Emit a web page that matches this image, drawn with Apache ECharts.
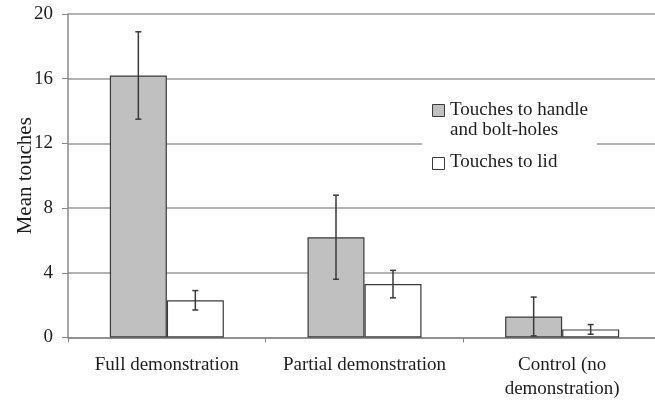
<!DOCTYPE html>
<html>
<head>
<meta charset="utf-8">
<script src="https://cdn.jsdelivr.net/npm/echarts@6/dist/echarts.min.js"></script>
<style>html,body{margin:0;padding:0;background:#fff}#c{width:655px;height:401px}</style>
</head>
<body>
<div id="c"></div>
<script>
const categories = ['Full demonstration', 'Partial demonstration', 'Control (no\ndemonstration)'];
const seriesNames = ['Touches to handle\nand bolt-holes', 'Touches to lid'];
const handleMean = [16.2, 6.2, 1.3];
const handleErr = [2.7, 2.6, 1.2];
const lidMean = [2.3, 3.3, 0.5];
const lidErr = [0.6, 0.85, 0.3];
const yTicks = [0, 4, 8, 12, 16, 20];

const FONT = '"Liberation Serif","Times New Roman",serif';
const TXT = '#1e1e1e';
const BAR_W = 57;
const fills = ['#c0c0c0', '#ffffff'];

const errData = [];
[[handleMean, handleErr], [lidMean, lidErr]].forEach(function (p, s) {
  p[0].forEach(function (m, i) {
    errData.push([i, Math.max(0, m - p[1][i]), m + p[1][i], s]);
  });
});

const chart = echarts.init(document.getElementById('c'), null, {renderer: 'canvas'});
chart.setOption({
  animation: false,
  backgroundColor: '#fff',
  grid: {left: 68, right: -6, top: 14, bottom: 63.5, outerBoundsMode: 'none', containLabel: false},
  xAxis: {
    type: 'category',
    data: categories,
    axisLine: {lineStyle: {color: '#888', width: 1.5}},
    axisTick: {show: true, length: 5, lineStyle: {color: '#888'}},
    axisLabel: {color: TXT, fontFamily: FONT, fontSize: 19, lineHeight: 24, margin: 16, interval: 0}
  },
  yAxis: {
    type: 'value',
    min: yTicks[0], max: yTicks[yTicks.length - 1], interval: yTicks[1] - yTicks[0],
    name: 'Mean touches',
    nameLocation: 'middle',
    nameGap: 32,
    nameMoveOverlap: false,
    nameTextStyle: {color: TXT, fontFamily: FONT, fontSize: 21},
    axisLine: {show: true, lineStyle: {color: '#888', width: 1.5}},
    axisTick: {show: true, length: 6, lineStyle: {color: '#888'}},
    axisLabel: {color: TXT, fontFamily: FONT, fontSize: 19, margin: 15},
    splitLine: {lineStyle: {color: '#9a9a9a', width: 1.5}}
  },
  series: [
    {
      type: 'bar', name: seriesNames[0], data: handleMean, barWidth: BAR_W, barGap: '0%',
      itemStyle: {color: fills[0], borderColor: '#3a3a3a', borderWidth: 1.2}
    },
    {
      type: 'bar', name: seriesNames[1], data: lidMean, barWidth: BAR_W, barGap: '0%',
      itemStyle: {color: fills[1], borderColor: '#3a3a3a', borderWidth: 1.2}
    },
    {
      type: 'custom', name: 'err', data: errData, z: 10,
      encode: {x: 0, y: [1, 2]},
      renderItem: function (params, api) {
        const off = (api.value(3) === 0 ? -1 : 1) * BAR_W / 2;
        const lo = api.coord([api.value(0), api.value(1)]);
        const hi = api.coord([api.value(0), api.value(2)]);
        const x = lo[0] + off;
        const cap = 3;
        const st = {stroke: '#3a3a3a', lineWidth: 1.5};
        return {
          type: 'group',
          children: [
            {type: 'line', shape: {x1: x, y1: lo[1], x2: x, y2: hi[1]}, style: st},
            {type: 'line', shape: {x1: x - cap, y1: hi[1], x2: x + cap, y2: hi[1]}, style: st},
            {type: 'line', shape: {x1: x - cap, y1: lo[1], x2: x + cap, y2: lo[1]}, style: st}
          ]
        };
      }
    }
  ],
  graphic: [
    {type: 'rect', shape: {x: 422, y: 92, width: 175, height: 86}, style: {fill: '#fff'}, z: 50},
    {type: 'rect', shape: {x: 432.5, y: 104.5, width: 12, height: 12}, style: {fill: fills[0], stroke: '#3a3a3a', lineWidth: 1}, z: 51},
    {type: 'rect', shape: {x: 432.5, y: 157.5, width: 12, height: 12}, style: {fill: fills[1], stroke: '#3a3a3a', lineWidth: 1}, z: 51},
    {type: 'text', x: 450, y: 120.5, z: 51, style: {text: seriesNames[0], fill: TXT, font: '19px ' + FONT, lineHeight: 20, verticalAlign: 'middle'}},
    {type: 'text', x: 450, y: 162, z: 51, style: {text: seriesNames[1], fill: TXT, font: '19px ' + FONT, verticalAlign: 'middle'}}
  ]
});
</script>
</body>
</html>
